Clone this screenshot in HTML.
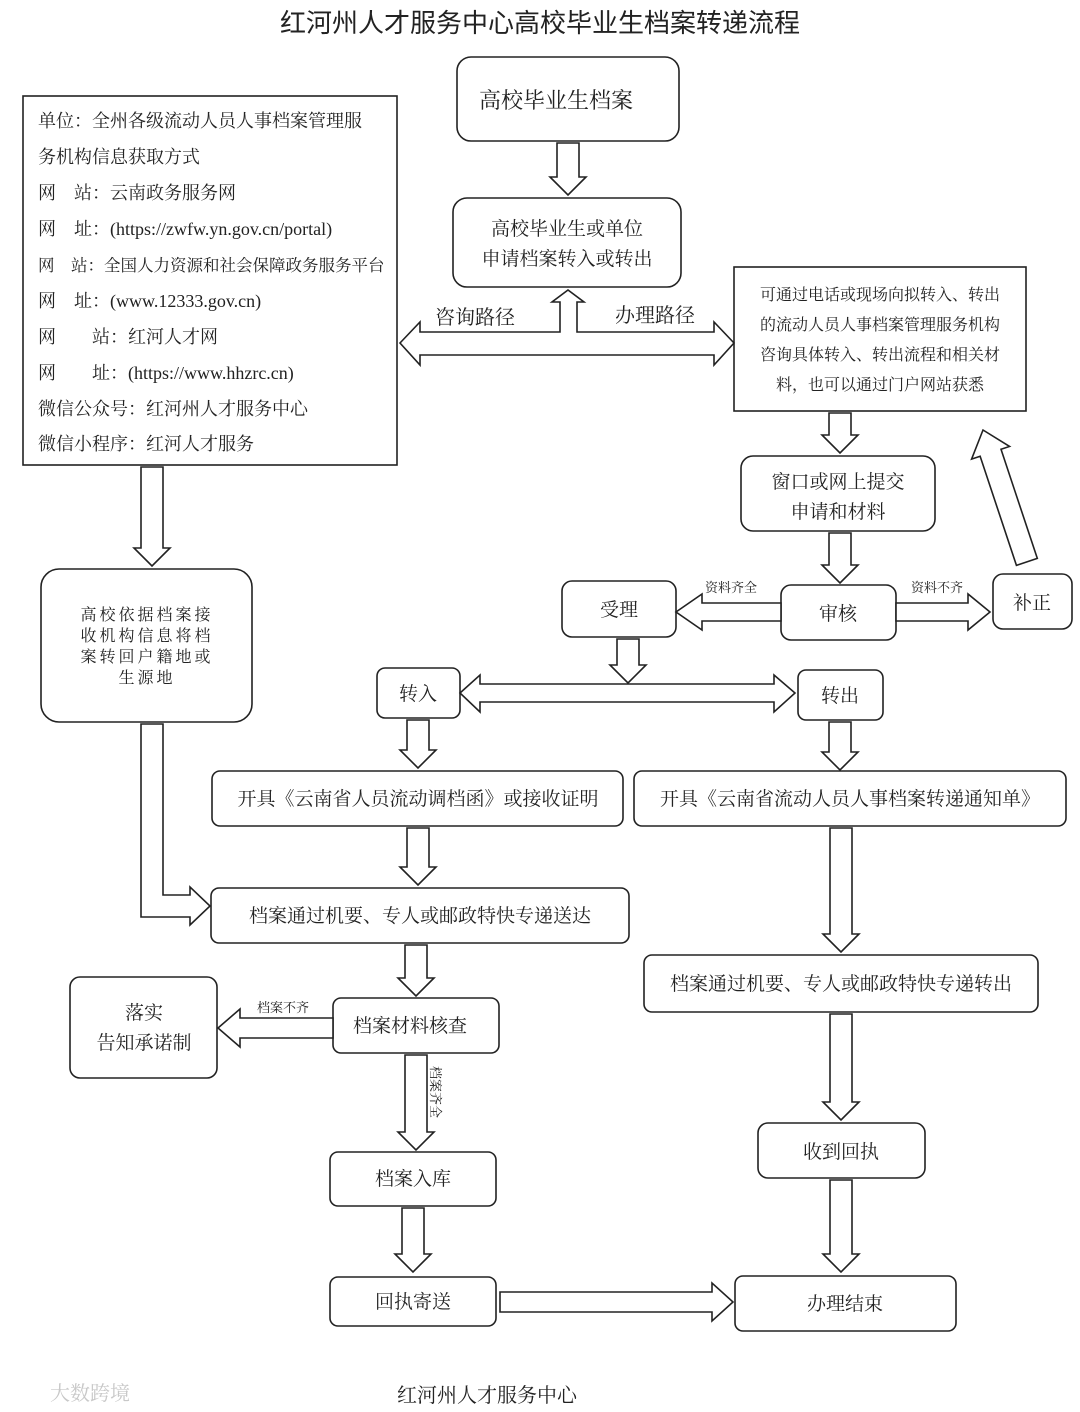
<!DOCTYPE html>
<html><head><meta charset="utf-8"><style>
body{margin:0;background:#fff;width:1080px;height:1412px;overflow:hidden}
svg{display:block}
text{font-family:"Liberation Serif","Noto Serif CJK SC",serif;fill:#222}
.b{fill:#fff;stroke:#222;stroke-width:1.6}
.a{fill:#fff;stroke:#222;stroke-width:1.6;stroke-linejoin:miter}
</style></head><body>
<svg width="1080" height="1412" viewBox="0 0 1080 1412">
<text x="540" y="32" font-size="26" text-anchor="middle" style="font-family:'Liberation Sans','Noto Sans CJK SC',sans-serif">红河州人才服务中心高校毕业生档案转递流程</text>

<rect class="b" x="457" y="57" width="222" height="84" rx="14"/>
<text x="556" y="108" font-size="22" text-anchor="middle">高校毕业生档案</text>
<rect class="b" x="453" y="198" width="228" height="89" rx="14"/>
<text x="567" y="235" font-size="19" text-anchor="middle">高校毕业生或单位</text>
<text x="567" y="265" font-size="19" text-anchor="middle">申请档案转入或转出</text>

<rect class="b" x="23" y="96" width="374" height="369"/>
<g font-size="18">
<text x="38" y="127">单位：全州各级流动人员人事档案管理服</text>
<text x="38" y="163">务机构信息获取方式</text>
<text x="38" y="199">网　站：云南政务服务网</text>
<text x="38" y="235">网　址：(https://zwfw.yn.gov.cn/portal)</text>
<text x="38" y="271" font-size="16.5">网　站：全国人力资源和社会保障政务服务平台</text>
<text x="38" y="307">网　址：(www.12333.gov.cn)</text>
<text x="38" y="343">网　　站：红河人才网</text>
<text x="38" y="379">网　　址：(https://www.hhzrc.cn)</text>
<text x="38" y="415">微信公众号：红河州人才服务中心</text>
<text x="38" y="450">微信小程序：红河人才服务</text>
</g>

<text x="435" y="324" font-size="20">咨询路径</text>
<text x="615" y="322" font-size="20">办理路径</text>

<rect class="b" x="734" y="267" width="292" height="144"/>
<g font-size="16" text-anchor="middle">
<text x="880" y="300">可通过电话或现场向拟转入、转出</text>
<text x="880" y="330">的流动人员人事档案管理服务机构</text>
<text x="880" y="360">咨询具体转入、转出流程和相关材</text>
<text x="880" y="390">料，也可以通过门户网站获悉</text>
</g>

<rect class="b" x="741" y="456" width="194" height="75" rx="12"/>
<text x="838" y="488" font-size="19" text-anchor="middle">窗口或网上提交</text>
<text x="838" y="518" font-size="19" text-anchor="middle">申请和材料</text>

<rect class="b" x="781" y="585" width="115" height="55" rx="10"/>
<text x="838" y="620" font-size="19" text-anchor="middle">审核</text>
<rect class="b" x="562" y="581" width="114" height="56" rx="10"/>
<text x="619" y="616" font-size="19" text-anchor="middle">受理</text>
<rect class="b" x="993" y="574" width="79" height="55" rx="10"/>
<text x="1032" y="609" font-size="19" text-anchor="middle">补正</text>
<text x="731" y="592" font-size="13" text-anchor="middle">资料齐全</text>
<text x="937" y="592" font-size="13" text-anchor="middle">资料不齐</text>

<rect class="b" x="41" y="569" width="211" height="153" rx="18"/>
<g font-size="16" text-anchor="middle" letter-spacing="3">
<text x="147" y="620">高校依据档案接</text>
<text x="147" y="641">收机构信息将档</text>
<text x="147" y="662">案转回户籍地或</text>
<text x="147" y="683">生源地</text>
</g>

<rect class="b" x="377" y="668" width="83" height="50" rx="8"/>
<text x="418" y="700" font-size="19" text-anchor="middle">转入</text>
<rect class="b" x="798" y="670" width="85" height="50" rx="8"/>
<text x="840" y="702" font-size="19" text-anchor="middle">转出</text>

<rect class="b" x="212" y="771" width="411" height="55" rx="8"/>
<text x="418" y="805" font-size="19" text-anchor="middle">开具《云南省人员流动调档函》或接收证明</text>
<rect class="b" x="634" y="771" width="432" height="55" rx="8"/>
<text x="850" y="805" font-size="19" text-anchor="middle">开具《云南省流动人员人事档案转递通知单》</text>

<rect class="b" x="211" y="888" width="418" height="55" rx="8"/>
<text x="420" y="922" font-size="19" text-anchor="middle">档案通过机要、专人或邮政特快专递送达</text>
<rect class="b" x="644" y="955" width="394" height="57" rx="8"/>
<text x="841" y="990" font-size="19" text-anchor="middle">档案通过机要、专人或邮政特快专递转出</text>

<rect class="b" x="333" y="998" width="166" height="55" rx="8"/>
<text x="410" y="1032" font-size="19" text-anchor="middle">档案材料核查</text>
<rect class="b" x="70" y="977" width="147" height="101" rx="10"/>
<text x="144" y="1019" font-size="19" text-anchor="middle">落实</text>
<text x="144" y="1049" font-size="19" text-anchor="middle">告知承诺制</text>
<text x="283" y="1012" font-size="13" text-anchor="middle">档案不齐</text>
<text font-size="13" transform="translate(431,1066) rotate(90)">档案齐全</text>

<rect class="b" x="330" y="1152" width="166" height="54" rx="8"/>
<text x="413" y="1185" font-size="19" text-anchor="middle">档案入库</text>
<rect class="b" x="330" y="1277" width="166" height="49" rx="8"/>
<text x="413" y="1308" font-size="19" text-anchor="middle">回执寄送</text>
<rect class="b" x="758" y="1123" width="167" height="55" rx="10"/>
<text x="841" y="1158" font-size="19" text-anchor="middle">收到回执</text>
<rect class="b" x="735" y="1276" width="221" height="55" rx="8"/>
<text x="845" y="1310" font-size="19" text-anchor="middle">办理结束</text>

<g>
<polygon class="a" points="557,143 579,143 579,177 586,177 568,195 550,177 557,177"/>
<polygon class="a" points="400,343 420,322 420,332 560,332 560,302 552,302 568,290 584,302 577,302 577,332 714,332 714,322 734,343 714,365 714,355 420,355 420,365"/>
<polygon class="a" points="829,413 851,413 851,435 858,435 840,453 822,435 829,435"/>
<polygon class="a" points="829,533 851,533 851,565 858,565 840,583 822,565 829,565"/>
<polygon class="a" points="781,603 702,603 702,594 676,612 702,630 702,621 781,621"/>
<polygon class="a" points="896,603 968,603 968,594 990,612 968,630 968,621 896,621"/>
<polygon class="a" transform="translate(983,430) rotate(-18.4)" points="-11,139 11,139 11,24 20,24 0,0 -20,24 -11,24"/>
<polygon class="a" points="617,639 639,639 639,665 646,665 628,683 610,665 617,665"/>
<polygon class="a" points="460,693 480,675 480,684 774,684 774,675 795,693 774,712 774,702 480,702 480,712"/>
<polygon class="a" points="407,720 429,720 429,750 436,750 418,768 400,750 407,750"/>
<polygon class="a" points="829,722 851,722 851,752 858,752 840,770 822,752 829,752"/>
<polygon class="a" points="407,828 429,828 429,867 436,867 418,885 400,867 407,867"/>
<polygon class="a" points="141,467 163,467 163,548 170,548 152,566 134,548 141,548"/>
<polygon class="a" points="141,724 163,724 163,895 190,895 190,887 210,906 190,925 190,917 141,917"/>
<polygon class="a" points="830,828 852,828 852,934 859,934 841,952 823,934 830,934"/>
<polygon class="a" points="830,1014 852,1014 852,1102 859,1102 841,1120 823,1102 830,1102"/>
<polygon class="a" points="830,1180 852,1180 852,1254 859,1254 841,1272 823,1254 830,1254"/>
<polygon class="a" points="405,945 427,945 427,978 434,978 416,996 398,978 405,978"/>
<polygon class="a" points="333,1018 240,1018 240,1009 218,1028 240,1047 240,1038 333,1038"/>
<polygon class="a" points="405,1055 427,1055 427,1132 434,1132 416,1150 398,1132 405,1132"/>
<polygon class="a" points="402,1208 424,1208 424,1254 431,1254 413,1272 395,1254 402,1254"/>
<polygon class="a" points="500,1292 712,1292 712,1283 733,1302 712,1321 712,1312 500,1312"/>
</g>

<text x="487" y="1402" font-size="20" text-anchor="middle">红河州人才服务中心</text>
<text x="50" y="1400" font-size="20" style="fill:#c8c8c8">大数跨境</text>
</svg>
</body></html>
